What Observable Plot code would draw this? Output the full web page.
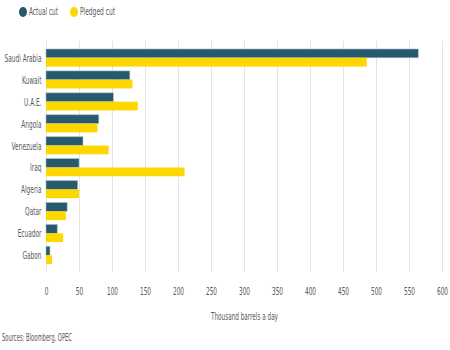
<!DOCTYPE html>
<html>
<head>
<meta charset="utf-8">
<script src="https://cdn.jsdelivr.net/npm/d3@7"></script>
<script src="https://cdn.jsdelivr.net/npm/@observablehq/plot@0.6"></script>
<style>
  body { margin: 0; background: #fff; font-family: "DejaVu Sans", sans-serif; color: #595959; }
  #wrap { width: 450px; height: 350px; position: relative; overflow: hidden; }
  #legend { height: 24px; position: relative; font-size: 11px; }
  .dot { position: absolute; top: 7px; width: 8px; height: 10px; border-radius: 50%; }
  .lab { position: absolute; top: 5px; white-space: nowrap; transform-origin: 0 50%; line-height: 14px; }
  #chart svg { display: block; }
  #caption { position: absolute; left: 2px; top: 331px; font-size: 10.5px; white-space: nowrap; transform-origin: 0 50%; }
</style>
</head>
<body>
<div id="wrap">
  <div id="legend"></div>
  <div id="chart"></div>
  <div id="caption"></div>
</div>
<script>
const countries = ["Saudi Arabia", "Kuwait", "U.A.E.", "Angola", "Venezuela", "Iraq", "Algeria", "Qatar", "Ecuador", "Gabon"];
const actualCut = [564, 127, 102, 80, 56, 50, 48, 32, 17, 6];
const pledgedCut = [486, 131, 139, 78, 95, 210, 50, 30, 26, 9];
const seriesNames = ["Actual cut", "Pledged cut"];
const seriesColors = ["#265a6c", "#ffd700"];
const xTicks = [0, 50, 100, 150, 200, 250, 300, 350, 400, 450, 500, 550, 600];
const xLabel = "Thousand barrels a day";
const sourceText = "Sources: Bloomberg, OPEC";

const actualData = countries.map((c, i) => ({country: c, value: actualCut[i]}));
const pledgedData = countries.map((c, i) => ({country: c, value: pledgedCut[i]}));

const height = 306;
const marginTop = 17;
const marginBottom = 58;
const n = countries.length;
const pi = 0.2, po = 0.365;
const rangeH = height - marginTop - marginBottom;
const step = rangeH / (n - pi + 2 * po);
const bw = step * (1 - pi);

const chart = Plot.plot({
  width: 450,
  height,
  marginLeft: 46,
  marginRight: 8,
  marginTop,
  marginBottom,
  style: {
    fontFamily: '"DejaVu Sans", sans-serif',
    fontSize: "11px",
    color: "#595959",
    background: "#fff"
  },
  x: {
    domain: [0, 600],
    ticks: xTicks,
    tickSize: 0,
    tickPadding: 15,
    grid: true,
    label: xLabel,
    labelAnchor: "center",
    labelOffset: 47
  },
  y: {
    domain: countries,
    paddingInner: pi,
    paddingOuter: po,
    round: false,
    tickSize: 0,
    tickPadding: 5,
    label: null
  },
  marks: [
    Plot.barX(actualData, {y: "country", x: "value", fill: seriesColors[0], stroke: "#9fb6c2", strokeWidth: 0.6, insetBottom: bw / 2}),
    Plot.barX(pledgedData, {y: "country", x: "value", fill: seriesColors[1], insetTop: bw / 2})
  ]
});
chart.querySelectorAll("g[aria-label='x-axis'] line, g[aria-label='x-grid'] line").forEach(l => {
  l.setAttribute("stroke", "#e4e4e4");
  l.setAttribute("stroke-opacity", "1");
});
document.getElementById("chart").appendChild(chart);

// condense text widths (reference uses a narrow face)
const texts = Array.from(chart.querySelectorAll("text"));
texts.forEach(t => { if (t.textContent.includes("→")) t.textContent = t.textContent.replace(/\s*→\s*/, ""); });
let factor = 0.65;
const saudi = texts.find(t => t.textContent === "Saudi Arabia");
if (saudi) factor = 37 / saudi.getComputedTextLength();
texts.forEach(t => {
  const len = t.getComputedTextLength();
  if (len > 0) {
    const target = t.textContent === xLabel ? 67 : len * factor;
    t.setAttribute("textLength", target.toFixed(2));
    t.setAttribute("lengthAdjust", "spacingAndGlyphs");
  }
});

// legend
const legend = document.getElementById("legend");
const dotX = [19, 70];
const labX = [29, 80];
const labW = [29, 35];
seriesNames.forEach((name, i) => {
  const dot = document.createElement("span");
  dot.className = "dot";
  dot.style.left = dotX[i] + "px";
  dot.style.background = seriesColors[i];
  const label = document.createElement("span");
  label.className = "lab";
  label.style.left = labX[i] + "px";
  label.textContent = name;
  legend.appendChild(dot);
  legend.appendChild(label);
  const w = label.getBoundingClientRect().width;
  label.style.transform = `scaleX(${labW[i] / w})`;
});
const cap = document.getElementById("caption");
cap.textContent = sourceText;
cap.style.transform = `scaleX(${70 / cap.getBoundingClientRect().width})`;
</script>
</body>
</html>
